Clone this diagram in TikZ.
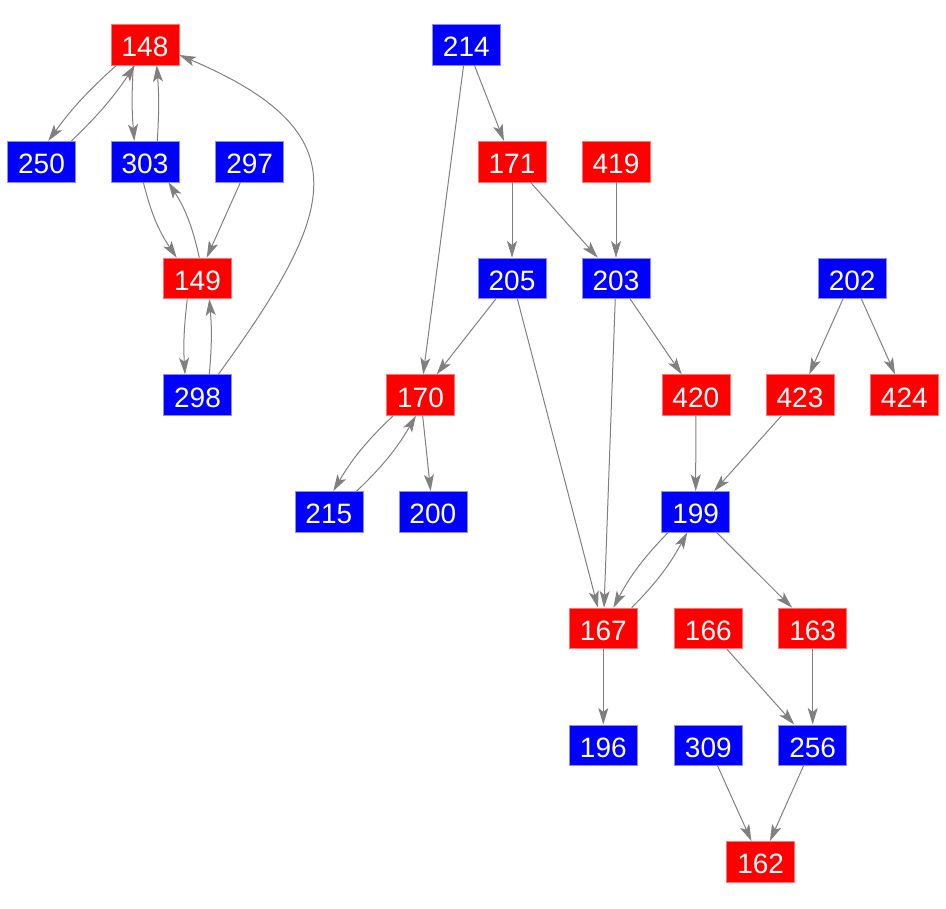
\documentclass[tikz,border=0pt]{standalone}
\usepackage{fontspec}
\setmainfont{Liberation Sans}
\usetikzlibrary{arrows.meta,calc}
\definecolor{edgegray}{RGB}{128,128,128}
\definecolor{boxred}{RGB}{255,0,0}
\definecolor{boxblue}{RGB}{0,0,255}
\tikzset{
  vbox/.style={rectangle, inner sep=0pt, minimum width=51pt, minimum height=30.5pt,
    text=white, font=\fontsize{21pt}{21pt}\selectfont, text height=18pt, text depth=0pt},
  redbox/.style={vbox, fill=boxred, draw=boxred!55!white, line width=0.4pt},
  bluebox/.style={vbox, fill=boxblue, draw=boxblue!45!white, line width=0.4pt},
  edge/.style={draw=edgegray, line width=0.75pt, -{Stealth[length=12.5pt,width=7.5pt,inset=3pt]}}
}
\begin{document}
\begin{tikzpicture}[x=0.75pt,y=0.75pt]
\useasboundingbox (0,0) rectangle (946,-908);
% nodes
\node[redbox]  (n148) at (145,-44.5) {148};
\node[bluebox] (n214) at (466.3,-44.5) {214};
\node[bluebox] (n250) at (41.5,-161.5) {250};
\node[bluebox] (n303) at (145,-161.5) {303};
\node[bluebox] (n297) at (249.7,-161.5) {297};
\node[redbox]  (n171) at (512,-161.5) {171};
\node[redbox]  (n419) at (616,-161.5) {419};
\node[redbox]  (n149) at (197.5,-278.3) {149};
\node[bluebox] (n205) at (512,-278.3) {205};
\node[bluebox] (n203) at (616,-278.3) {203};
\node[bluebox] (n202) at (852.2,-278.3) {202};
\node[bluebox] (n298) at (197.5,-395) {298};
\node[redbox]  (n170) at (420.5,-395) {170};
\node[redbox]  (n420) at (695.8,-395) {420};
\node[redbox]  (n423) at (800,-395) {423};
\node[redbox]  (n424) at (904.3,-395) {424};
\node[bluebox] (n215) at (328.8,-511.7) {215};
\node[bluebox] (n200) at (432.8,-511.7) {200};
\node[bluebox] (n199) at (695.7,-511.7) {199};
\node[redbox]  (n167) at (603.3,-628.3) {167};
\node[redbox]  (n166) at (708.3,-628.3) {166};
\node[redbox]  (n163) at (812.7,-628.3) {163};
\node[bluebox] (n196) at (603.3,-745.2) {196};
\node[bluebox] (n309) at (708.3,-745.2) {309};
\node[bluebox] (n256) at (812.7,-745.2) {256};
\node[redbox]  (n162) at (760.7,-861.7) {162};
% curved pairs
\draw[edge] ($(n148.south)+(-28.3,0)$) to[bend right=6] ($(n250.north)+(6.8,0)$);
\draw[edge] ($(n250.north)+(30,0)$) to[bend right=6] ($(n148.south)+(-10,0)$);
\draw[edge] ($(n148.south)+(-11.7,0)$) to[bend right=4] ($(n303.north)+(-10.7,0)$);
\draw[edge] ($(n303.north)+(12.3,0)$) to[bend right=4] ($(n148.south)+(11.7,0)$);
\draw[edge] ($(n303.south)+(-1.7,0)$) to[bend right=10] ($(n149.north)+(-20.8,0)$);
\draw[edge] ($(n149.north)+(1.8,0)$) to[bend right=10] ($(n303.south)+(23.3,0)$);
\draw[edge] ($(n149.south)+(-10.2,0)$) to[bend right=5] ($(n298.north)+(-12.5,0)$);
\draw[edge] ($(n298.north)+(11.8,0)$) to[bend right=5] ($(n149.south)+(11.8,0)$);
\draw[edge] ($(n298.north)+(20.8,0)$) to[out=54,in=-23,looseness=1.6] ($(n148.east)+(0,-10.5)$);
\draw[edge] ($(n170.south)+(-27.2,0)$) to[bend right=8] ($(n215.north)+(4.5,0)$);
\draw[edge] ($(n215.north)+(27.9,0)$) to[bend right=8] ($(n170.south)+(-4.5,0)$);
\draw[edge] ($(n199.south)+(-27.4,0)$) to[bend right=8] ($(n167.north)+(10,0)$);
\draw[edge] ($(n167.north)+(28.4,0)$) to[bend right=8] ($(n199.south)+(-8.4,0)$);
% straight edges
\draw[edge] (n297) -- (n149);
\draw[edge] (n214) -- (n171);
\draw[edge] (n214) -- (n170);
\draw[edge] (n171) -- (n205);
\draw[edge] (n171) -- (n203);
\draw[edge] (n419) -- (n203);
\draw[edge] (n205) -- (n170);
\draw[edge] (n205) -- (n167);
\draw[edge] (n203) -- (n167);
\draw[edge] (n203) -- (n420);
\draw[edge] (n202) -- (n423);
\draw[edge] (n202) -- (n424);
\draw[edge] (n420) -- (n199);
\draw[edge] (n423) -- (n199);
\draw[edge] (n170) -- (n200);
\draw[edge] (n199) -- (n163);
\draw[edge] (n167) -- (n196);
\draw[edge] (n166) -- (n256);
\draw[edge] (n163) -- (n256);
\draw[edge] (n309) -- (n162);
\draw[edge] (n256) -- (n162);
\end{tikzpicture}
\end{document}
